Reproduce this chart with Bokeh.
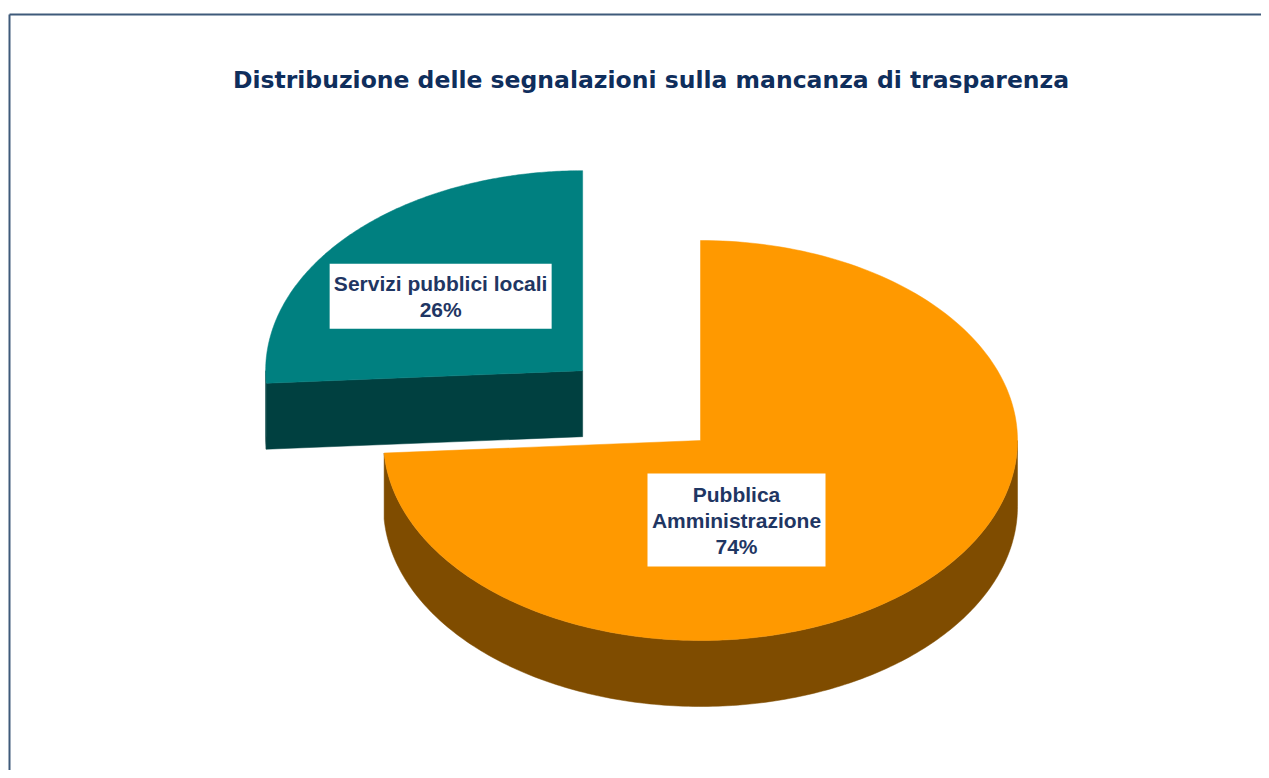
import numpy as np
from bokeh.plotting import figure
from bokeh.models import Range1d
from bokeh.embed import file_html
from bokeh.resources import INLINE
from bokeh.core.properties import value

# ---------------- data ----------------
title_text = "Distribuzione delle segnalazioni sulla mancanza di trasparenza"
categories = ["Pubblica Amministrazione", "Servizi pubblici locali"]
label_lines = [["Pubblica", "Amministrazione", "74%"], ["Servizi pubblici locali", "26%"]]
shares = [74, 26]
explode = [0.0, 0.51]

# ---------------- style / layout ----------------
top_colors = ["#FF9900", "#008080"]
side_colors = ["#7F4C00", "#004040"]
TEXT_COLOR = "#1F3663"
TITLE_COLOR = "#0F2E5C"
W, H = 1261, 770
CX, CY = 700, 440          # pie centre (pixels in figure)
RX, RY, DEPTH = 317, 200, 66
label_offsets = [(36, 79.5), (-142, -74.5)]   # label box centre relative to slice apex
box_sizes = [(178, 93), (222, 65)]
LINE_H = 26

p = figure(width=W, height=H, x_range=Range1d(0, W), y_range=Range1d(H, 0),
           output_backend="svg", toolbar_location=None, min_border=0,
           x_axis_location=None, y_axis_location=None)
p.grid.visible = False
p.outline_line_color = None
p.background_fill_color = "white"
p.border_fill_color = "white"

# frame border (left & top)
p.line([9, 9], [H, 14], line_color="#3F5A7A", line_width=2)
p.line([9, W], [14, 14], line_color="#3F5A7A", line_width=2)


def arc(ax, ay, a0, a1, dz=0.0, n=200):
    t = np.linspace(a0, a1, n)
    return list(ax + RX * np.sin(t)), list(ay - RY * np.cos(t) + dz)


# slice geometry computed from shares
total = float(sum(shares))
slices = []
cum = 0.0
for i, s in enumerate(shares):
    a0 = cum
    a1 = cum + s / total * 2 * np.pi
    cum = a1
    mid = (a0 + a1) / 2
    ox = CX + explode[i] * RX * np.sin(mid)
    oy = CY - explode[i] * RY * np.cos(mid)
    slices.append((i, a0, a1, ox, oy))

# draw back slices first
for i, a0, a1, ox, oy in sorted(slices, key=lambda t: t[4]):
    xs, ys, cols = [], [], []
    # radial face at start angle
    if np.sin(a0) < -1e-9:
        px, py = ox + RX * np.sin(a0), oy - RY * np.cos(a0)
        xs.append([ox, px, px, ox]); ys.append([oy, py, py + DEPTH, oy + DEPTH]); cols.append(side_colors[i])
    # radial face at end angle
    if np.sin(a1) > 1e-9:
        px, py = ox + RX * np.sin(a1), oy - RY * np.cos(a1)
        xs.append([ox, px, px, ox]); ys.append([oy, py, py + DEPTH, oy + DEPTH]); cols.append(side_colors[i])
    # outer curved side (front half: 90..270 deg)
    b0, b1 = max(a0, np.pi / 2), min(a1, 3 * np.pi / 2)
    if b1 > b0:
        tx, ty = arc(ox, oy, b0, b1)
        bx, by = arc(ox, oy, b1, b0, DEPTH)
        xs.append(tx + bx); ys.append(ty + by); cols.append(side_colors[i])
    if xs:
        p.patches(xs, ys, fill_color=cols, line_color=cols, line_width=0.5)
    # top face
    tx, ty = arc(ox, oy, a0, a1)
    p.patch([ox] + tx + [ox], [oy] + ty + [oy], fill_color=top_colors[i],
            line_color=top_colors[i], line_width=0.5)

# labels
for i, a0, a1, ox, oy in slices:
    lx, ly = ox + label_offsets[i][0], oy + label_offsets[i][1]
    bw, bh = box_sizes[i]
    p.rect([lx], [ly], width=bw, height=bh, fill_color="white", line_color=None)
    lines = label_lines[i]
    n = len(lines)
    ys = [ly + (k - (n - 1) / 2) * LINE_H for k in range(n)]
    p.text([lx] * n, ys, text=lines, text_font=value("Liberation Sans"),
           text_font_style="bold", text_font_size="21px", text_color=TEXT_COLOR,
           text_align="center", text_baseline="middle")

# title
p.text([650.5], [79], text=[title_text], text_font=value("DejaVu Sans"),
       text_font_style="bold", text_font_size="23.5px", text_color=TITLE_COLOR,
       text_align="center", text_baseline="middle")

open("out.html", "w").write(file_html(p, INLINE))
